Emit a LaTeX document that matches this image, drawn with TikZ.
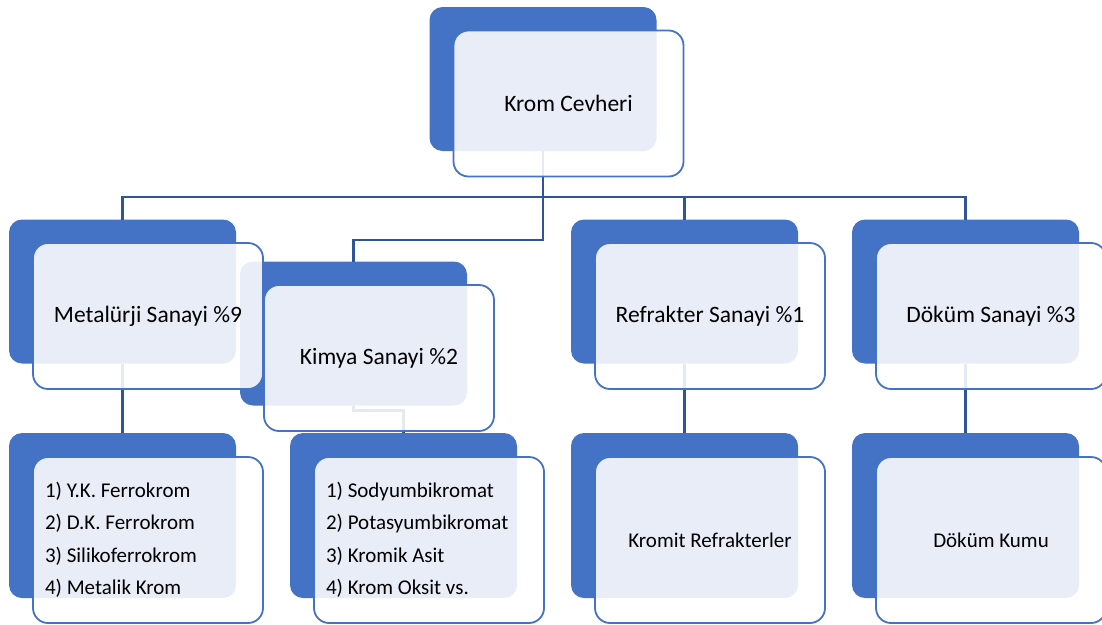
\documentclass[tikz,border=0pt]{standalone}
\usepackage{fontspec}
\setmainfont{Carlito}
\frenchspacing
\usetikzlibrary{positioning, calc}
\definecolor{smartblue}{RGB}{68,114,196}
\definecolor{linkblue}{RGB}{47,85,151}
\tikzset{
    backbox/.style={
        fill=smartblue, rounded corners=13pt,
        minimum width=227pt, minimum height=#1,
        inner sep=0pt, outer sep=0pt
    },
    backbox/.default=144pt
}
\tikzset{
    frontbox/.style={
        draw=smartblue, line width=1.8pt, fill=white, fill opacity=0.88, text opacity=1,
        rounded corners=15pt, minimum width=230pt, minimum height=#1,
        inner sep=0pt, outer sep=0pt, font=\fontsize{23.5}{28}\selectfont
    },
    frontbox/.default=146pt,
    listbox/.style={
        frontbox=166pt, text width=206pt, inner xsep=12pt, align=flush left,
        font=\fontsize{21}{32.5}\selectfont
    },
    link/.style={draw=linkblue, line width=2.2pt}
}

\begin{document}
\begin{tikzpicture}[x=1pt, y=-1pt]
    \def \dx {25.5}
    \def \dy {24.5}
    \useasboundingbox (0,0) rectangle (1102,624);
    % back boxes
    \node[backbox] (top) at (543, 79) {};
    \node[backbox] (metal) at (122.5, 291.5) {};
    \node[backbox] (kimya) at (353.5, 333.5) {};
    \node[backbox] (refr) at (684.5, 291.5) {};
    \node[backbox] (dokum) at (965.5, 291.5) {};
    \node[backbox=165pt] (metalalt) at (122.5, 515.5) {};
    \node[backbox=165pt] (kimyaalt) at (403.5, 515.5) {};
    \node[backbox=165pt] (refralt) at (684.5, 515.5) {};
    \node[backbox=165pt] (dokumalt) at (965.5, 515.5) {};
    % connectors
    \coordinate (bus) at ($(top.south)+(0,46)$);
    \draw[link] (metal.north) |- (bus) -| (dokum.north);
    \draw[link] (top.south) -- (bus) -| (refr.north);
    \draw[link] (top.south) -- ++(0,89) -| (kimya.north);
    \draw[link] (metal.south) -- (metalalt.north);
    \draw[link] (kimya.south) -- ++(0,5) -| (kimyaalt.north);
    \draw[link] (refr.south) -- (refralt.north);
    \draw[link] (dokum.south) -- (dokumalt.north);
    % front boxes
    \node[frontbox] (topf) at ($(top)+(\dx,\dy)$) {Krom Cevheri};
    \node[frontbox] (metalf) at ($(metal)+(\dx,\dy)$) {Metalürji Sanayi \%9};
    \node[frontbox] (kimyaf) at ($(kimya)+(\dx,\dy)$) {Kimya Sanayi \%2};
    \node[frontbox] (refrf) at ($(refr)+(\dx,\dy)$) {Refrakter Sanayi \%1};
    \node[frontbox] (dokumf) at ($(dokum)+(\dx,\dy)$) {Döküm Sanayi \%3};
    \node[listbox] (metalaltf) at ($(metalalt)+(\dx,\dy)$)
        {1) Y.K. Ferrokrom\\2) D.K. Ferrokrom\\3) Silikoferrokrom\\4) Metalik Krom};
    \node[listbox] (kimyaaltf) at ($(kimyaalt)+(\dx,\dy)$)
        {1) Sodyumbikromat\\2) Potasyumbikromat\\3) Kromik Asit\\4) Krom Oksit vs.};
    \node[frontbox=166pt, font=\fontsize{21}{28}\selectfont] (refraltf) at ($(refralt)+(\dx,\dy)$) {Kromit Refrakterler};
    \node[frontbox=166pt, font=\fontsize{21}{28}\selectfont] (dokumaltf) at ($(dokumalt)+(\dx,\dy)$) {Döküm Kumu};
\end{tikzpicture}
\end{document}
